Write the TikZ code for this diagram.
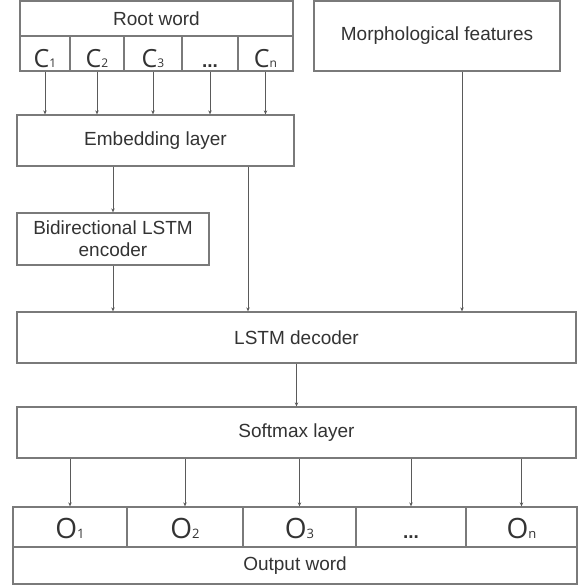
\documentclass[tikz,border=0pt]{standalone}
\usepackage{fontspec}
\setmainfont{Liberation Sans}
\newfontfamily\symfont{Open Sans}
\usetikzlibrary{arrows.meta}
\definecolor{edge}{HTML}{7A7A7A}
\definecolor{ink}{HTML}{333333}
\definecolor{wire}{HTML}{5A5A5A}
\newcommand{\lbl}{\fontsize{19}{22}\selectfont}
\newcommand{\bigC}[1]{{\symfont\fontsize{25}{25}\selectfont C}{\symfont\fontsize{12}{12}\selectfont #1}}
\newcommand{\bigO}[1]{{\symfont\fontsize{28}{28}\selectfont O}{\symfont\fontsize{13}{13}\selectfont #1}}
\newcommand{\dotsym}{{\lbl\bfseries ...}}
\tikzset{
  box/.style={draw=edge, line width=1.3pt, fill=white, inner sep=0pt, text=ink,
    font=\lbl, align=center},
  cellC/.style={box, minimum height=35pt, text height=29pt, text depth=0pt},
  cellO/.style={box, minimum height=40pt, text height=22pt, text depth=0pt},
  arr/.style={draw=wire, line width=0.9pt, -{Stealth[length=4pt,width=3.5pt]}}
}
\begin{document}
\begin{tikzpicture}[x=1pt,y=-1pt]
\useasboundingbox (0,0) rectangle (579,588);

% input word and its characters
\node[box, minimum width=273pt, minimum height=35pt] (root) at (156.5,18.5) {Root word};
\node[cellC, minimum width=50pt] (c1) at (45,53.5) {\bigC{1}};
\node[cellC, minimum width=54pt] (c2) at (97,53.5) {\bigC{2}};
\node[cellC, minimum width=58pt] (c3) at (153,53.5) {\bigC{3}};
\node[cellC, minimum width=56pt] (c4) at (210,53.5) {\dotsym};
\node[cellC, minimum width=55pt] (c5) at (265.5,53.5) {\bigC{n}};

\node[box, minimum width=246pt, minimum height=70pt] (morph) at (437,36) {Morphological features};

% network layers
\node[box, minimum width=277pt, minimum height=51pt] (emb) at (155.5,140.5) {Embedding layer};
\node[box, minimum width=192pt, minimum height=52pt] (enc) at (113,239) {Bidirectional LSTM\\encoder};
\node[box, minimum width=559pt, minimum height=51pt] (dec) at (296.5,337.5) {LSTM decoder};
\node[box, minimum width=559pt, minimum height=51pt] (soft) at (296.5,432.5) {Softmax layer};

% output characters and word
\node[cellO, minimum width=114pt] (o1) at (70,527) {\bigO{1}};
\node[cellO, minimum width=116pt] (o2) at (185,527) {\bigO{2}};
\node[cellO, minimum width=113pt] (o3) at (299.5,527) {\bigO{3}};
\node[cellO, minimum width=110pt] (o4) at (411,527) {\dotsym};
\node[cellO, minimum width=111pt] (o5) at (521.5,527) {\bigO{n}};
\node[box, minimum width=564pt, minimum height=37pt] (out) at (295,565.5) {Output word};

% side taps
\coordinate (etap) at (248,0);
\coordinate (mtap) at (462,0);

% connectors
\foreach \c in {c1,c2,c3,c4,c5}
  \draw[arr] (\c.south) -- (\c.south |- emb.north);
\draw[arr] (enc.north |- emb.south) -- (enc.north);
\draw[arr] (enc.south) -- (enc.south |- dec.north);
\draw[arr] (etap |- emb.south) -- (etap |- dec.north);
\draw[arr] (mtap |- morph.south) -- (mtap |- dec.north);
\draw[arr] (dec.south) -- (soft.north);
\foreach \o in {o1,o2,o3,o4,o5}
  \draw[arr] (\o.north |- soft.south) -- (\o.north);
\end{tikzpicture}
\end{document}
